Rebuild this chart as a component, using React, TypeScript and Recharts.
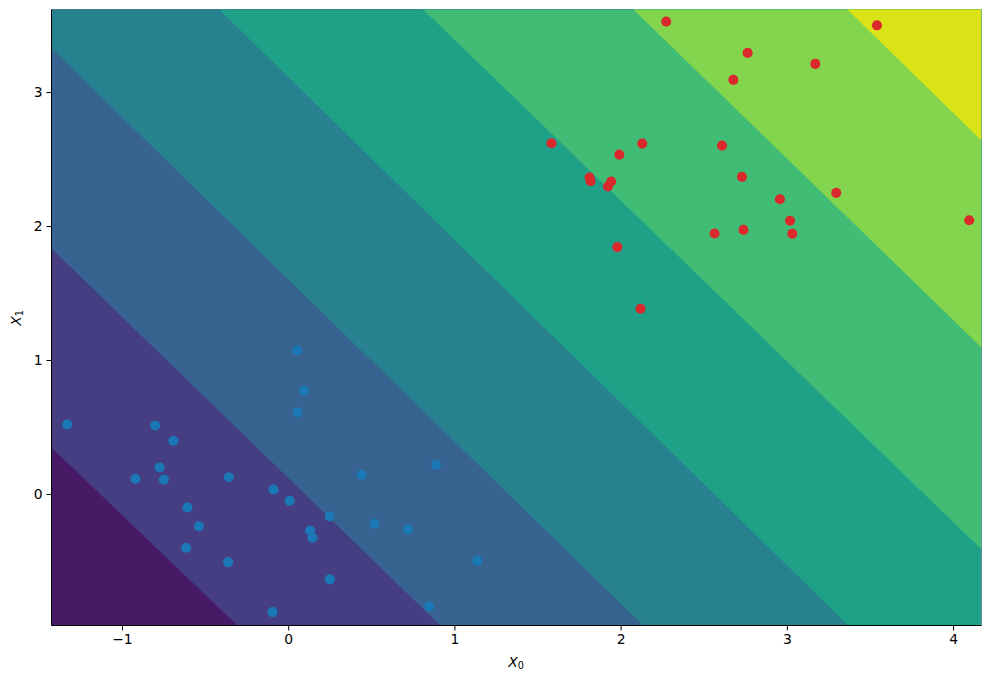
import React from "react";
import { ComposedChart, Area, Scatter, XAxis, YAxis, ZAxis } from "recharts";

const xDomain = [-1.427, 4.168];
const yDomain = [-0.978, 3.62];
const xTicks = [-1, 0, 1, 2, 3, 4];
const yTicks = [0, 1, 2, 3];

// decision boundaries read at the left and right edges of the plot
const edgeX = [-1.427, 4.168];
const boundary0 = [-10, -10];
const boundary1 = [0.35, -6.298];
const boundary2 = [1.836, -4.895];
const boundary3 = [3.328, -3.44];
const boundary4 = [4.846, -1.951];
const boundary5 = [6.303, -0.41];
const boundary6 = [7.838, 1.097];
const boundary7 = [9.42, 2.642];
const ceiling = 12;

const boundaries = [
  boundary0,
  boundary1,
  boundary2,
  boundary3,
  boundary4,
  boundary5,
  boundary6,
  boundary7,
];
const bandColors = [
  "#481a66",
  "#453e82",
  "#366390",
  "#27818f",
  "#1fa188",
  "#40bc74",
  "#84d54e",
  "#d9e318",
];

const blueX = [
  -1.333, -0.803, -0.693, -0.777, -0.922, -0.751, -0.36, -0.091, 0.005, -0.609,
  -0.54, -0.617, -0.364, 0.129, 0.143, 0.247, 0.248, -0.097, 0.091, 0.053,
  0.438, 0.887, 0.516, 0.717, 1.134, 0.845, 0.051,
];
const blueY = [
  0.522, 0.515, 0.401, 0.201, 0.117, 0.112, 0.129, 0.037, -0.047, -0.097,
  -0.237, -0.398, -0.505, -0.269, -0.323, -0.164, -0.634, -0.878, 0.776, 0.614,
  0.147, 0.222, -0.219, -0.261, -0.495, -0.836, 1.075,
];
const redX = [
  2.271, 2.761, 2.675, 1.581, 2.127, 1.989, 2.607, 2.727, 1.81, 1.816, 1.94,
  1.921, 2.562, 2.736, 1.977, 2.117, 3.539, 3.168, 2.955, 3.294, 3.016, 3.03,
  4.094,
];
const redY = [
  3.53, 3.296, 3.095, 2.622, 2.619, 2.537, 2.604, 2.371, 2.366, 2.338, 2.336,
  2.299, 1.948, 1.975, 1.846, 1.386, 3.502, 3.214, 2.204, 2.251, 2.043, 1.946,
  2.047,
];

const font = "'DejaVu Sans', sans-serif";
const tickStyle = { fill: "#000", fontSize: 13.9, fontFamily: font };

const edgeRows = edgeX.map((x, i) => {
  const row: Record<string, number> = { x };
  boundaries.forEach((b, k) => {
    row[`b${k}`] = b[i];
  });
  return row;
});
const bluePoints = blueX.map((x, i) => ({ x, y: blueY[i] }));
const redPoints = redX.map((x, i) => ({ x, y: redY[i] }));

const formatTick = (v: number) => String(v).replace("-", "\u2212");

const XLabel = () => (
  <text x={516} y={667} textAnchor="middle" fill="#000" fontSize={13.9} fontFamily={font}>
    <tspan fontStyle="italic">X</tspan>
    <tspan fontSize={9.7} dy={2}>0</tspan>
  </text>
);

const YLabel = () => (
  <text
    x={21}
    y={318}
    textAnchor="middle"
    fill="#000"
    fontSize={13.9}
    fontFamily={font}
    transform="rotate(-90 21 318)"
  >
    <tspan fontStyle="italic">X</tspan>
    <tspan fontSize={9.7} dy={2}>1</tspan>
  </text>
);

export default function App() {
  return (
    <div style={{ position: "absolute", left: 0, top: 0, background: "#fff" }}>
      <ComposedChart
        width={990}
        height={681}
        data={edgeRows}
        margin={{ top: 9.5, right: 8.5, bottom: 0, left: 0.5 }}
      >
        <XAxis
          dataKey="x"
          type="number"
          domain={xDomain}
          ticks={xTicks}
          interval={0}
          allowDataOverflow
          height={55.5}
          tick={tickStyle}
          tickFormatter={formatTick}
          tickSize={5}
          tickMargin={4}
          stroke="#000"
          label={{ content: <XLabel /> }}
        />
        <YAxis
          type="number"
          domain={yDomain}
          ticks={yTicks}
          interval={0}
          allowDataOverflow
          width={51}
          tick={tickStyle}
          tickFormatter={formatTick}
          tickSize={5}
          tickMargin={4}
          stroke="#000"
          label={{ content: <YLabel /> }}
        />
        <ZAxis range={[80, 80]} />
        {boundaries.map((_, k) => (
          <Area
            key={k}
            type="linear"
            dataKey={(row: Record<string, number>) => [row[`b${k}`], ceiling]}
            fill={bandColors[k]}
            fillOpacity={1}
            stroke="none"
            dot={false}
            activeDot={false}
            isAnimationActive={false}
          />
        ))}
        <Scatter data={bluePoints} dataKey="y" fill="#1b78b6" isAnimationActive={false} />
        <Scatter data={redPoints} dataKey="y" fill="#da292d" isAnimationActive={false} />
      </ComposedChart>
    </div>
  );
}
